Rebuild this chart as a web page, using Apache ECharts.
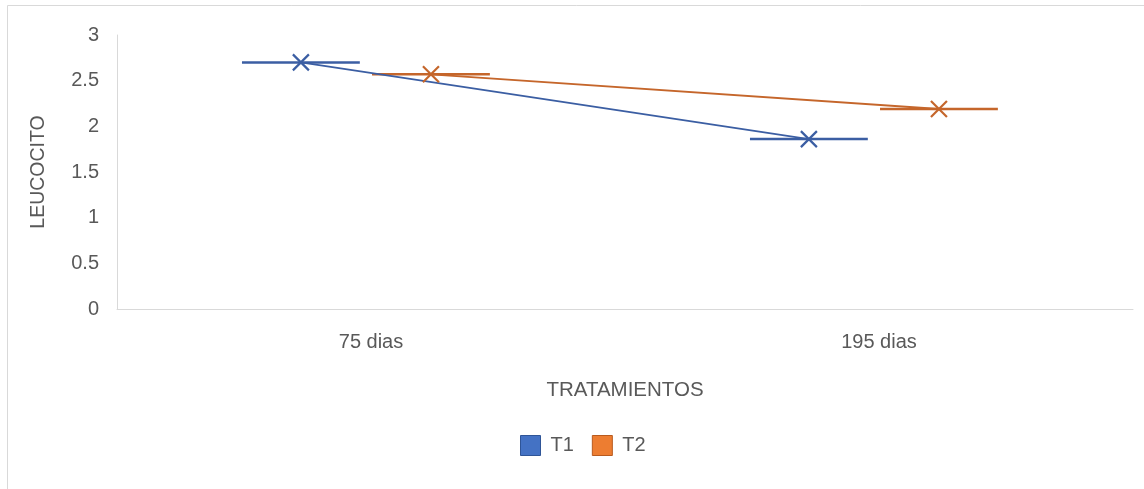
<!DOCTYPE html>
<html>
<head>
<meta charset="utf-8">
<script src="https://cdn.jsdelivr.net/npm/echarts@6/dist/echarts.min.js"></script>
<style>
  html, body { margin: 0; padding: 0; background: #fff; }
  #chart { width: 1144px; height: 489px; }
</style>
</head>
<body>
<div id="chart"></div>
<script>
// datos
const categories = ['75 dias', '195 dias'];
const t1 = [2.70, 1.86];
const t2 = [2.57, 2.19];
const seriesNames = ['T1', 'T2'];

// posicion de cada serie dentro de la categoria y ancho de la barra horizontal
const offsets = [-0.138, 0.118];
const barHalf = 0.116;

const lineColors = ['#3B5EA3', '#C5662B'];
const boxColors = ['#4472C4', '#ED7D31'];
const boxBorders = ['#2F5597', '#B85A1E'];
const font = 'Liberation Sans';
const textColor = '#595959';

const chart = echarts.init(document.getElementById('chart'));

const xMark = 'path://M0,0L10,10M10,0L0,10';

function points(values, k) {
  return values.map((v, i) => [i + offsets[k], v]);
}

function lineSeries(values, k) {
  return {
    name: seriesNames[k],
    type: 'line',
    xAxisIndex: 1,
    data: points(values, k),
    symbol: xMark,
    symbolSize: 16,
    lineStyle: { color: lineColors[k], width: 1.8 },
    itemStyle: { color: lineColors[k], borderColor: lineColors[k], borderWidth: 2.2 },
    z: 3
  };
}

function barSeries(values, k) {
  return {
    name: seriesNames[k],
    type: 'custom',
    xAxisIndex: 1,
    data: points(values, k),
    renderItem: function (params, api) {
      const x = api.value(0), y = api.value(1);
      const a = api.coord([x - barHalf, y]);
      const b = api.coord([x + barHalf, y]);
      return {
        type: 'line',
        shape: { x1: a[0], y1: a[1], x2: b[0], y2: b[1] },
        style: { stroke: lineColors[k], lineWidth: 2.5 }
      };
    },
    z: 2
  };
}

chart.setOption({
  animation: false,
  backgroundColor: '#fff',
  graphic: [{
    type: 'rect',
    shape: { x: 7.5, y: 5.5, width: 1150, height: 500 },
    style: { fill: 'none', stroke: '#d9d9d9', lineWidth: 1 },
    silent: true
  }],
  grid: { left: 117, right: 11, top: 35, bottom: 180 },
  legend: {
    top: 430,
    left: 515,
    itemWidth: 20,
    itemHeight: 20,
    itemGap: 18,
    textStyle: { fontFamily: font, fontSize: 20, color: textColor, padding: [0, 0, 0, 5] },
    data: seriesNames.map((n, k) => ({
      name: n,
      icon: 'rect',
      itemStyle: { color: boxColors[k], borderColor: boxBorders[k], borderWidth: 1 }
    }))
  },
  xAxis: [{
    type: 'category',
    data: categories,
    boundaryGap: true,
    name: 'TRATAMIENTOS',
    nameLocation: 'middle',
    nameGap: 71,
    nameTextStyle: { fontFamily: font, fontSize: 20.5, color: textColor },
    axisLine: { lineStyle: { color: '#d9d9d9', width: 1 } },
    axisTick: { show: false },
    axisLabel: { margin: 23, fontFamily: font, fontSize: 20, color: textColor },
    splitLine: { show: false }
  }, {
    type: 'value',
    min: -0.5,
    max: 1.5,
    show: false
  }],
  yAxis: {
    type: 'value',
    min: 0,
    max: 3,
    interval: 0.5,
    name: 'LEUCOCITO',
    nameLocation: 'middle',
    nameGap: 68,
    nameTextStyle: { fontFamily: font, fontSize: 19.5, color: textColor },
    axisLine: { show: true, onZero: false, lineStyle: { color: '#d9d9d9', width: 1 } },
    axisTick: { show: false },
    axisLabel: { margin: 18, fontFamily: font, fontSize: 20, color: textColor, padding: [4, 0, 0, 0] },
    splitLine: { show: false }
  },
  series: [
    barSeries(t1, 0),
    barSeries(t2, 1),
    lineSeries(t1, 0),
    lineSeries(t2, 1)
  ]
});
</script>
</body>
</html>
